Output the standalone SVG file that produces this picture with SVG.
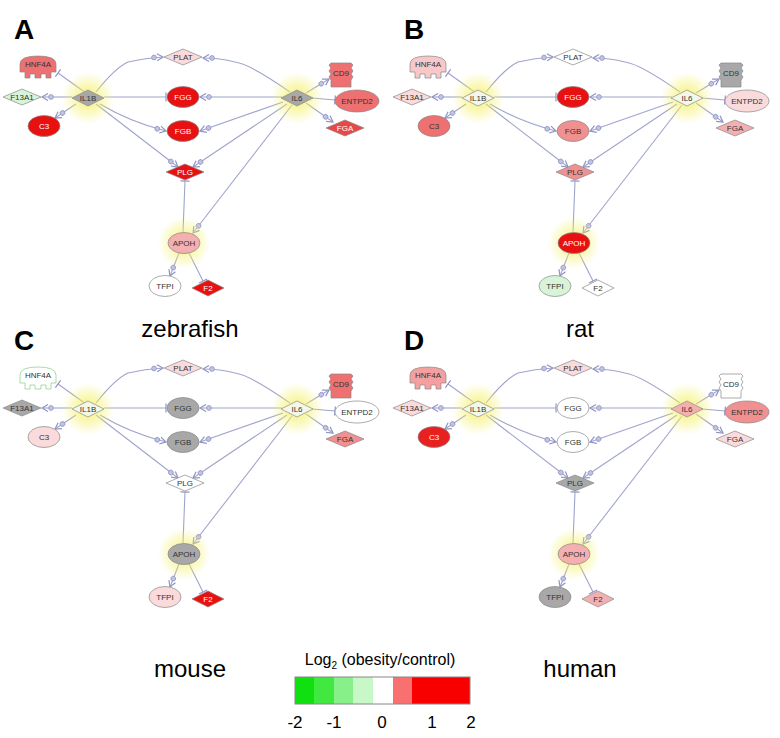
<svg xmlns="http://www.w3.org/2000/svg" xmlns:xlink="http://www.w3.org/1999/xlink" width="780" height="738" viewBox="0 0 780 738">
<style>
text{font-family:"Liberation Sans",Arial,sans-serif}
.n{font-size:8px;text-anchor:middle;dominant-baseline:central;fill:#333}
.w{fill:#fff}
.s{stroke:#888;stroke-width:0.7}
.e{fill:none;stroke:#a0a4cc;stroke-width:1.1}
.a{marker-end:url(#arr)}
.t{marker-end:url(#tee)}
.big{font-size:24px;text-anchor:middle}
.L{font-size:28px;font-weight:bold}
</style>
<defs>
<radialGradient id="glow"><stop offset="0" stop-color="#f4f060" stop-opacity="0.9"/><stop offset="1" stop-color="#f4f060" stop-opacity="0"/></radialGradient>
<marker id="arr" markerUnits="userSpaceOnUse" markerWidth="20" markerHeight="12" viewBox="-14 -6 20 12" refX="0" refY="0" orient="auto">
<circle cx="-9" cy="0" r="2.4" fill="#c0c4e4" stroke="#9094c4" stroke-width="0.8"/>
<path d="M-6,-3.5 L0,0 L-6,3.5" fill="none" stroke="#9094c4" stroke-width="1.2"/>
</marker>
<marker id="tee" markerUnits="userSpaceOnUse" markerWidth="4" markerHeight="12" viewBox="-2 -6 4 12" refX="0" refY="0" orient="auto">
<path d="M0,-4.5 V4.5" stroke="#9094c4" stroke-width="1.2"/>
</marker>
<path id="dia" d="M-19,0 L0,-8 L19,0 L0,8 Z"/>
<path id="diaS" d="M-16,0 L0,-8 L16,0 L0,8 Z"/>
<ellipse id="ell" rx="16" ry="10.5"/>
<ellipse id="ellW" rx="22" ry="11"/>
<path id="hnf" d="M-18,4 V-4 Q-18,-12 0,-12 Q18,-12 18,-4 V4 H13 V10 H8 V6 H3 V10 H-3 V6 H-8 V10 H-13 V4 Z"/>
<path id="cd9" d="M-10,-12 H10 L12,-10 L10,-7 L12,-4 L10,-1 L12,2 L10,5 L10,12 H-10 V5 L-12,2 L-10,-1 L-12,-4 L-10,-7 L-12,-10 Z"/>
<g id="edges">
<path class="e t" d="M86,93 L58,73"/>
<path class="e a" d="M72,97 L42,97"/>
<path class="e a" d="M76,104 L55,118"/>
<path class="e a" d="M96,92 Q115,68 128,62 Q145,58 163,57"/>
<path class="e t" d="M104,97 L166,97"/>
<path class="e a" d="M100,104 Q130,122 166,131"/>
<path class="e a" d="M96,104 L178,167"/>
<path class="e a" d="M290,92 Q250,64 235,62 Q220,58 203,58"/>
<path class="e a" d="M282,97 L200,97"/>
<path class="e a" d="M283,102 L200,131"/>
<path class="e a" d="M287,104 L193,167"/>
<path class="e a" d="M292,105 L193,233"/>
<path class="e a" d="M306,93 L329,79"/>
<path class="e t" d="M312,98 L335,100"/>
<path class="e a" d="M306,103 L333,122"/>
<path class="e t" d="M183,232 L185,181"/>
<path class="e a" d="M179,253 L170,276"/>
<path class="e t" d="M189,253 L203,281"/>
</g>
</defs>

<rect width="780" height="738" fill="#fff"/>

<g id="connectors">
<use href="#edges"/>
<use href="#edges" transform="translate(390,0)"/>
<use href="#edges" transform="translate(0,311)"/>
<use href="#edges" transform="translate(390,311)"/>
</g>

<!-- Panel A -->
<g id="panelA">
<text class="L" x="14" y="39">A</text>
<circle cx="88" cy="98" r="26" fill="url(#glow)"/><circle cx="297" cy="98" r="26" fill="url(#glow)"/><circle cx="184" cy="243" r="26" fill="url(#glow)"/>
<g id="A-HNF4A" transform="translate(38,68)"><use href="#hnf" class="s" fill="#ee7070"/><text class="n" y="-4">HNF4A</text></g>
<g id="A-F13A1" transform="translate(22,97)"><use href="#dia" class="s" fill="#d8f4d8"/><text class="n">F13A1</text></g>
<g id="A-IL1B" transform="translate(88,98)"><use href="#diaS" class="s" fill="#a8a8a8"/><text class="n">IL1B</text></g>
<g id="A-C3" transform="translate(44,126)"><use href="#ell" class="s" fill="#e81010"/><text class="n w">C3</text></g>
<g id="A-PLAT" transform="translate(183,57)"><use href="#dia" class="s" fill="#fadada"/><text class="n">PLAT</text></g>
<g id="A-FGG" transform="translate(183,97)"><use href="#ell" class="s" fill="#e81010"/><text class="n w">FGG</text></g>
<g id="A-FGB" transform="translate(183,131)"><use href="#ell" class="s" fill="#e81010"/><text class="n w">FGB</text></g>
<g id="A-PLG" transform="translate(185,172)"><use href="#dia" class="s" fill="#e81010"/><text class="n w">PLG</text></g>
<g id="A-IL6" transform="translate(297,98)"><use href="#diaS" class="s" fill="#a8a8a8"/><text class="n">IL6</text></g>
<g id="A-CD9" transform="translate(341,75)"><use href="#cd9" class="s" fill="#ee7070"/><text class="n" y="-2">CD9</text></g>
<g id="A-ENTPD2" transform="translate(357,101)"><use href="#ellW" class="s" fill="#ee7070"/><text class="n">ENTPD2</text></g>
<g id="A-FGA" transform="translate(345,128)"><use href="#dia" class="s" fill="#e84848"/><text class="n w">FGA</text></g>
<g id="A-APOH" transform="translate(184,243)"><use href="#ell" class="s" fill="#f4b0b0"/><text class="n">APOH</text></g>
<g id="A-TFPI" transform="translate(165,286)"><use href="#ell" class="s" fill="#ffffff"/><text class="n">TFPI</text></g>
<g id="A-F2" transform="translate(208,288)"><use href="#diaS" class="s" fill="#e81010"/><text class="n w">F2</text></g>
<text class="big" x="190" y="337">zebrafish</text>
</g>

<!-- Panel B -->
<g id="panelB" transform="translate(390,0)">
<text class="L" x="14" y="39">B</text>
<circle cx="88" cy="98" r="26" fill="url(#glow)"/><circle cx="297" cy="98" r="26" fill="url(#glow)"/><circle cx="184" cy="243" r="26" fill="url(#glow)"/>
<g id="B-HNF4A" transform="translate(38,68)"><use href="#hnf" class="s" fill="#f8c8c8"/><text class="n" y="-4">HNF4A</text></g>
<g id="B-F13A1" transform="translate(22,97)"><use href="#dia" class="s" fill="#fadada"/><text class="n">F13A1</text></g>
<g id="B-IL1B" transform="translate(88,98)"><use href="#diaS" class="s" fill="#f4f8e8"/><text class="n">IL1B</text></g>
<g id="B-C3" transform="translate(44,126)"><use href="#ell" class="s" fill="#ee7070"/><text class="n">C3</text></g>
<g id="B-PLAT" transform="translate(183,57)"><use href="#dia" class="s" fill="#ffffff"/><text class="n">PLAT</text></g>
<g id="B-FGG" transform="translate(183,97)"><use href="#ell" class="s" fill="#e81010"/><text class="n w">FGG</text></g>
<g id="B-FGB" transform="translate(183,131)"><use href="#ell" class="s" fill="#f09090"/><text class="n">FGB</text></g>
<g id="B-PLG" transform="translate(185,172)"><use href="#dia" class="s" fill="#f09090"/><text class="n">PLG</text></g>
<g id="B-IL6" transform="translate(297,98)"><use href="#diaS" class="s" fill="#f4f8e8"/><text class="n">IL6</text></g>
<g id="B-CD9" transform="translate(341,75)"><use href="#cd9" class="s" fill="#a8a8a8"/><text class="n" y="-2">CD9</text></g>
<g id="B-ENTPD2" transform="translate(357,101)"><use href="#ellW" class="s" fill="#fadada"/><text class="n">ENTPD2</text></g>
<g id="B-FGA" transform="translate(345,128)"><use href="#dia" class="s" fill="#f4b0b0"/><text class="n">FGA</text></g>
<g id="B-APOH" transform="translate(184,243)"><use href="#ell" class="s" fill="#e81010"/><text class="n w">APOH</text></g>
<g id="B-TFPI" transform="translate(165,286)"><use href="#ell" class="s" fill="#d8f4d8"/><text class="n">TFPI</text></g>
<g id="B-F2" transform="translate(208,288)"><use href="#diaS" class="s" fill="#ffffff"/><text class="n">F2</text></g>
<text class="big" x="190" y="337">rat</text>
</g>

<!-- Panel C -->
<g id="panelC" transform="translate(0,311)">
<text class="L" x="14" y="39">C</text>
<circle cx="88" cy="98" r="26" fill="url(#glow)"/><circle cx="297" cy="98" r="26" fill="url(#glow)"/><circle cx="184" cy="243" r="26" fill="url(#glow)"/>
<g id="C-HNF4A" transform="translate(38,68)"><use href="#hnf" stroke="#8c8" stroke-width="0.7" fill="#ffffff"/><text class="n" y="-4">HNF4A</text></g>
<g id="C-F13A1" transform="translate(22,97)"><use href="#dia" class="s" fill="#a8a8a8"/><text class="n">F13A1</text></g>
<g id="C-IL1B" transform="translate(88,98)"><use href="#diaS" class="s" fill="#f4f8e8"/><text class="n">IL1B</text></g>
<g id="C-C3" transform="translate(44,126)"><use href="#ell" class="s" fill="#fadada"/><text class="n">C3</text></g>
<g id="C-PLAT" transform="translate(183,57)"><use href="#dia" class="s" fill="#fadada"/><text class="n">PLAT</text></g>
<g id="C-FGG" transform="translate(183,97)"><use href="#ell" class="s" fill="#a8a8a8"/><text class="n">FGG</text></g>
<g id="C-FGB" transform="translate(183,131)"><use href="#ell" class="s" fill="#a8a8a8"/><text class="n">FGB</text></g>
<g id="C-PLG" transform="translate(185,172)"><use href="#dia" class="s" fill="#ffffff"/><text class="n">PLG</text></g>
<g id="C-IL6" transform="translate(297,98)"><use href="#diaS" class="s" fill="#f4f8e8"/><text class="n">IL6</text></g>
<g id="C-CD9" transform="translate(341,75)"><use href="#cd9" class="s" fill="#ee7070"/><text class="n" y="-2">CD9</text></g>
<g id="C-ENTPD2" transform="translate(357,101)"><use href="#ellW" class="s" fill="#ffffff"/><text class="n">ENTPD2</text></g>
<g id="C-FGA" transform="translate(345,128)"><use href="#dia" class="s" fill="#f09090"/><text class="n">FGA</text></g>
<g id="C-APOH" transform="translate(184,243)"><use href="#ell" class="s" fill="#a8a8a8"/><text class="n">APOH</text></g>
<g id="C-TFPI" transform="translate(165,286)"><use href="#ell" class="s" fill="#fadada"/><text class="n">TFPI</text></g>
<g id="C-F2" transform="translate(208,288)"><use href="#diaS" class="s" fill="#e81010"/><text class="n w">F2</text></g>
<text class="big" x="190" y="366">mouse</text>
</g>

<!-- Panel D -->
<g id="panelD" transform="translate(390,311)">
<text class="L" x="14" y="39">D</text>
<circle cx="88" cy="98" r="26" fill="url(#glow)"/><circle cx="297" cy="98" r="26" fill="url(#glow)"/><circle cx="184" cy="243" r="26" fill="url(#glow)"/>
<g id="D-HNF4A" transform="translate(38,68)"><use href="#hnf" class="s" fill="#f4a0a0"/><text class="n" y="-4">HNF4A</text></g>
<g id="D-F13A1" transform="translate(22,97)"><use href="#dia" class="s" fill="#fadada"/><text class="n">F13A1</text></g>
<g id="D-IL1B" transform="translate(88,98)"><use href="#diaS" class="s" fill="#f4f8e8"/><text class="n">IL1B</text></g>
<g id="D-C3" transform="translate(44,126)"><use href="#ell" class="s" fill="#e82020"/><text class="n w">C3</text></g>
<g id="D-PLAT" transform="translate(183,57)"><use href="#dia" class="s" fill="#fadada"/><text class="n">PLAT</text></g>
<g id="D-FGG" transform="translate(183,97)"><use href="#ell" class="s" fill="#ffffff"/><text class="n">FGG</text></g>
<g id="D-FGB" transform="translate(183,131)"><use href="#ell" class="s" fill="#ffffff"/><text class="n">FGB</text></g>
<g id="D-PLG" transform="translate(185,172)"><use href="#dia" class="s" fill="#a8a8a8"/><text class="n">PLG</text></g>
<g id="D-IL6" transform="translate(297,98)"><use href="#diaS" class="s" fill="#f4b0b0"/><text class="n">IL6</text></g>
<g id="D-CD9" transform="translate(341,75)"><use href="#cd9" class="s" fill="#ffffff"/><text class="n" y="-2">CD9</text></g>
<g id="D-ENTPD2" transform="translate(357,101)"><use href="#ellW" class="s" fill="#f09090"/><text class="n">ENTPD2</text></g>
<g id="D-FGA" transform="translate(345,128)"><use href="#dia" class="s" fill="#fadada"/><text class="n">FGA</text></g>
<g id="D-APOH" transform="translate(184,243)"><use href="#ell" class="s" fill="#f4b0b0"/><text class="n">APOH</text></g>
<g id="D-TFPI" transform="translate(165,286)"><use href="#ell" class="s" fill="#a8a8a8"/><text class="n">TFPI</text></g>
<g id="D-F2" transform="translate(208,288)"><use href="#diaS" class="s" fill="#f4b0b0"/><text class="n">F2</text></g>
<text class="big" x="190" y="366">human</text>
</g>

<!-- Legend -->
<g id="legend">
<text x="380" y="665" font-size="16" text-anchor="middle">Log<tspan font-size="10" dy="4">2</tspan><tspan dy="-4"> (obesity/control)</tspan></text>
<rect x="295" y="677" width="19" height="27" fill="#10e010"/>
<rect x="314" y="677" width="20" height="27" fill="#40e840"/>
<rect x="334" y="677" width="19" height="27" fill="#88f088"/>
<rect x="353" y="677" width="20" height="27" fill="#c8f8c8"/>
<rect x="373" y="677" width="20" height="27" fill="#ffffff"/>
<rect x="393" y="677" width="19" height="27" fill="#f87070"/>
<rect x="412" y="677" width="58" height="27" fill="#f80000"/>
<rect x="295" y="677" width="175" height="27" fill="none" stroke="#888" stroke-width="1"/>
<g font-size="17" text-anchor="middle">
<text x="295" y="728">-2</text><text x="334" y="728">-1</text><text x="382" y="728">0</text><text x="432" y="728">1</text><text x="471" y="728">2</text>
</g>
</g>
</svg>
